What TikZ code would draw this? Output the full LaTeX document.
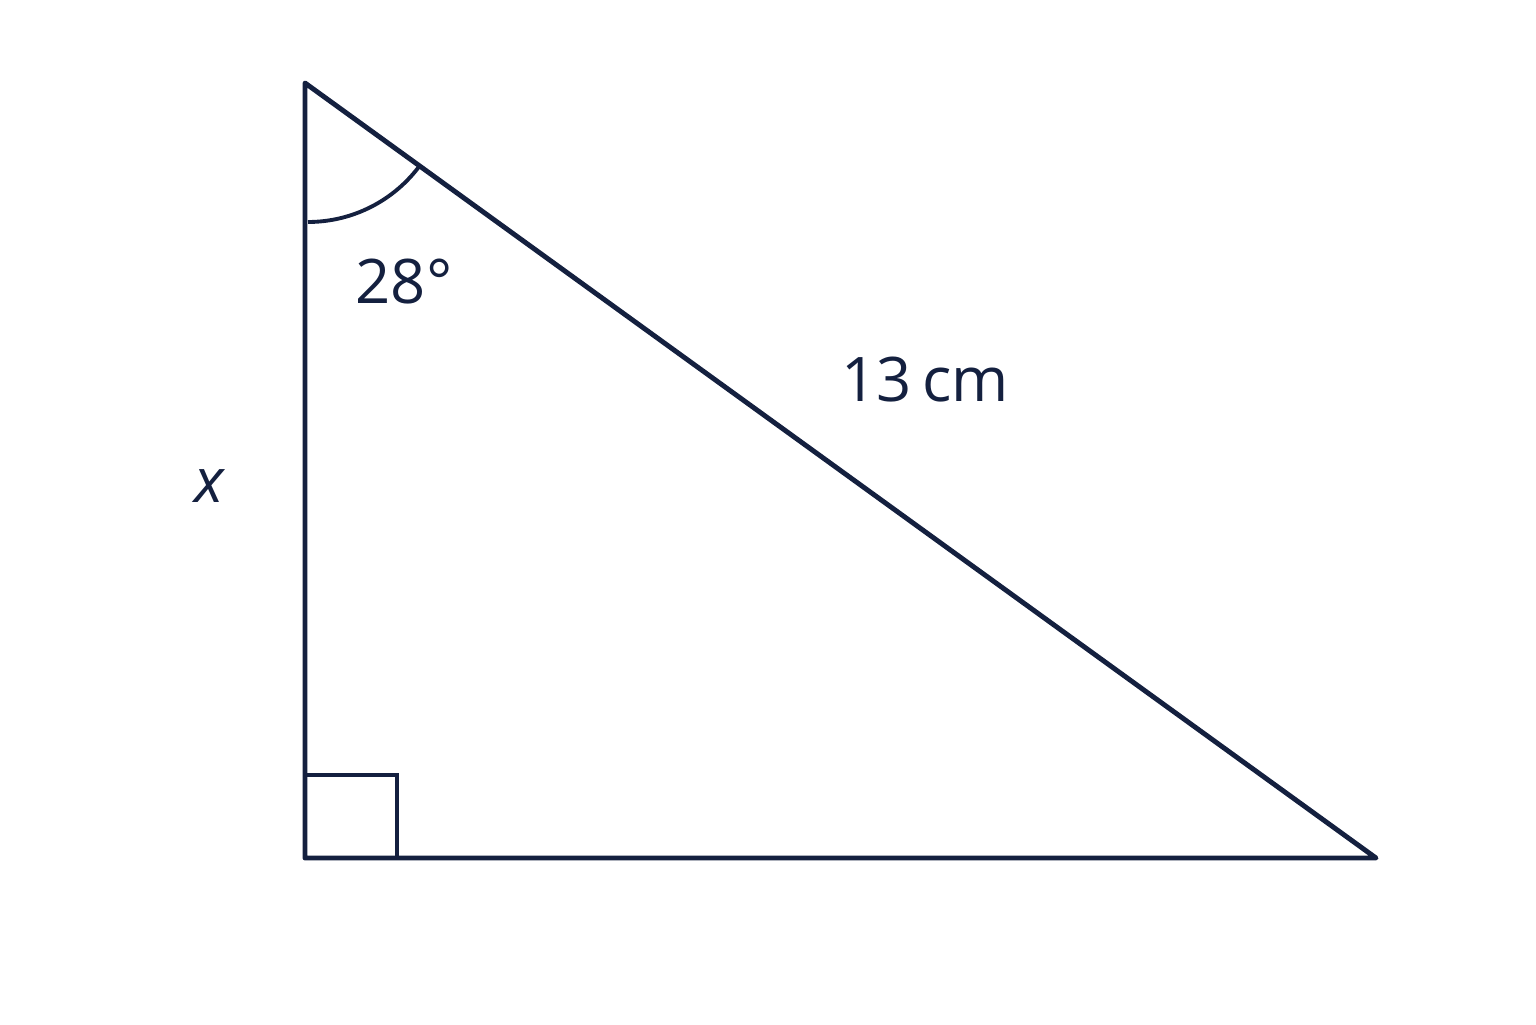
\documentclass[tikz,border=0pt]{standalone}
\usepackage{fontspec}
\setmainfont{Open Sans}
\usetikzlibrary{calc,positioning}
\definecolor{ink}{HTML}{14203F}

\begin{document}
\begin{tikzpicture}[
        side/.style={draw=ink, line width=1.4pt, line join=round, line cap=round},
        anglemark/.style={draw=ink, line width=1.1pt},
        every node/.style={text=ink, font=\fontsize{17.5}{21}\selectfont}
    ]
        \useasboundingbox (0,0) rectangle (15.36,10.24);

        % Các đỉnh của tam giác
        \coordinate (top) at (3.05,9.41);
        \coordinate (corner) at (3.05,1.66);
        \coordinate (right) at (13.76,1.66);

        % Vẽ tam giác
        \draw[side] (top) -- (corner) -- (right) -- cycle;

        % Ký hiệu góc vuông và cung góc
        \draw[anglemark] ($(corner)+(0,0.83)$) -- ++(0.92,0) -- ++(0,-0.83);
        \draw[anglemark] ($(top)+(0.03,-1.39)$) arc[start angle=-90, end angle=-35.9, radius=1.39];

        % Nhãn
        \node (angle) at (4.04,7.42) {28°};
        \node (hyp) at (9.25,6.44) {13\,cm};
        \node (xlab) at (2.09,5.38) {\itshape x};
    \end{tikzpicture}
\end{document}
